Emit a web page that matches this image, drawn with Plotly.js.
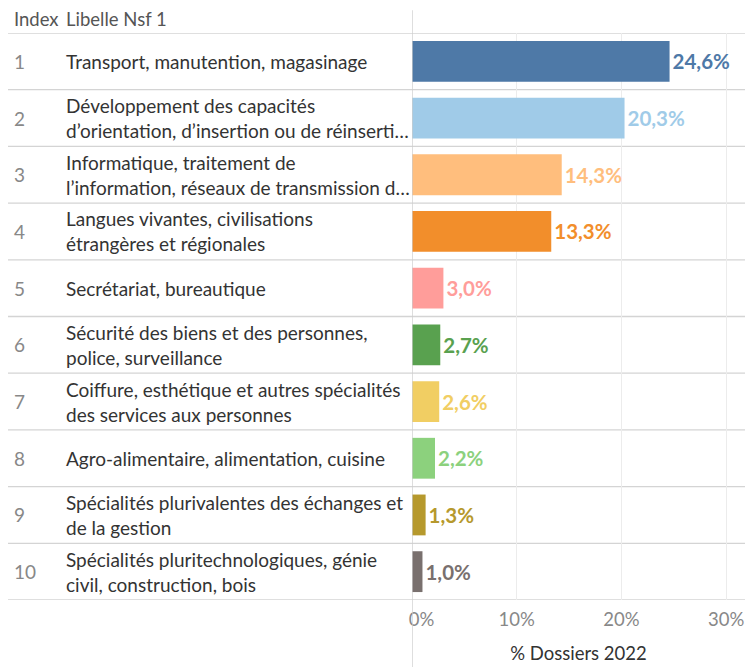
<!DOCTYPE html>
<html><head><meta charset="utf-8">
<script src="https://cdn.plot.ly/plotly-3.0.1.min.js"></script>
<style>html,body{margin:0;padding:0;background:#fff;}#chart{width:745px;height:667px;}</style>
</head><body><div id="chart"></div>
<script>
const indexes = [1,2,3,4,5,6,7,8,9,10];
const labels = [
  "Transport, manutention, magasinage",
  "Développement des capacités<br>d’orientation, d’insertion ou de réinserti…",
  "Informatique, traitement de<br>l’information, réseaux de transmission d…",
  "Langues vivantes, civilisations<br>étrangères et régionales",
  "Secrétariat, bureautique",
  "Sécurité des biens et des personnes,<br>police, surveillance",
  "Coiffure, esthétique et autres spécialités<br>des services aux personnes",
  "Agro-alimentaire, alimentation, cuisine",
  "Spécialités plurivalentes des échanges et<br>de la gestion",
  "Spécialités pluritechnologiques, génie<br>civil, construction, bois"
];
const values = [0.246, 0.203, 0.143, 0.133, 0.030, 0.027, 0.026, 0.022, 0.013, 0.010];
const colors = ["#4E79A7","#A0CBE8","#FFBE7D","#F28E2B","#FF9D9A","#59A14F","#F1CE63","#8CD17D","#B6992D","#79706E"];
const tickVals = [0, 0.1, 0.2, 0.3];
const tickText = ["\u00a0\u00a0\u00a0\u00a00%","10%","20%","30%"];

const FONT = "Lato, 'Open Sans', sans-serif";
const plotLeft = 412, W = 745;
const pw = W - plotLeft;
const px = x => (x - plotLeft) / pw;

const cats = indexes.map(i => "r" + i);
const trace = {
  type: "bar", orientation: "h",
  y: cats, x: values,
  marker: {color: colors, line: {width: 0}},
  width: 0.72,
  texttemplate: "%{x:.1%}",
  textposition: "outside",
  cliponaxis: false,
  textfont: {family: FONT, size: 20.5, color: colors, weight: "bold"},
  hoverinfo: "none"
};

const annotations = [];
annotations.push({xref:"paper", yref:"paper", x:px(12), y:1, yshift:14, xanchor:"left", yanchor:"middle", text:"Index", showarrow:false, font:{family:FONT, size:18.5, color:"#555"}});
annotations.push({xref:"paper", yref:"paper", x:px(64), y:1, yshift:14, xanchor:"left", yanchor:"middle", text:"Libelle Nsf 1", showarrow:false, font:{family:FONT, size:18.5, color:"#555"}});
cats.forEach((c, i) => {
  annotations.push({xref:"paper", yref:"y", x:px(12), y:i, xanchor:"left", yanchor:"middle", text:String(indexes[i]), showarrow:false, font:{family:FONT, size:19, color:"#888"}});
  annotations.push({xref:"paper", yref:"y", x:px(64), y:i, xanchor:"left", yanchor:"middle", align:"left", text:labels[i], showarrow:false, font:{family:FONT, size:19, color:"#333"}});
});

const shapes = [];
for (let i = 0; i <= cats.length; i++) {
  shapes.push({type:"line", xref:"paper", yref:"y", x0:px(8), x1:1, y0:i-0.5, y1:i-0.5, line:{color:"#d4d4d4", width:1.3}, layer:"below"});
}
shapes.push({type:"line", xref:"x", yref:"paper", x0:0, x1:0, y0:1.04, y1:-0.12, line:{color:"#cccccc", width:1.3}});

const layout = {
  width: 745, height: 667,
  margin: {l: plotLeft, r: 0, t: 33, b: 67},
  paper_bgcolor: "#fff", plot_bgcolor: "#fff",
  separators: ", ",
  showlegend: false,
  xaxis: {
    range: [0, pw / 1047], tickvals: tickVals, ticktext: tickText,
    showgrid: true, gridcolor: "#ececec", gridwidth: 1,
    zeroline: false, showline: false, ticks: "",
    tickfont: {family: FONT, size: 18.5, color: "#888"},
    ticklabelstandoff: 6,
    title: {text: "% Dossiers 2022", font: {family: FONT, size: 18.5, color: "#333"}, standoff: 18},
    fixedrange: true
  },
  yaxis: {
    type: "category", categoryarray: cats, range: [9.5, -0.5], showticklabels: false, showgrid: false,
    zeroline: false, showline: false, ticks: "", fixedrange: true
  },
  annotations: annotations,
  shapes: shapes
};

Plotly.newPlot("chart", [trace], layout, {displayModeBar: false, staticPlot: true});
</script></body></html>
